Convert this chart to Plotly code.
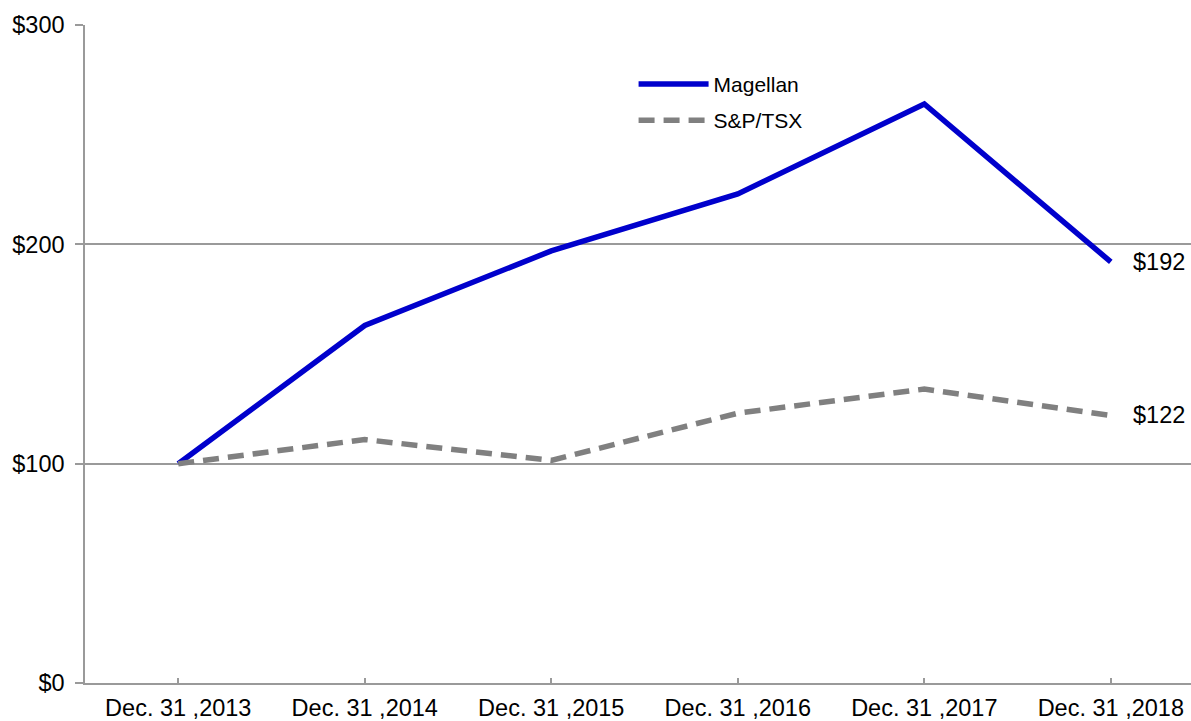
import plotly.graph_objects as go

categories = ["Dec. 31 ,2013", "Dec. 31 ,2014", "Dec. 31 ,2015",
              "Dec. 31 ,2016", "Dec. 31 ,2017", "Dec. 31 ,2018"]
magellan = [100, 163, 197, 223, 264, 192]
sptsx = [100, 111, 101.5, 123, 134, 122]
y_ticks = [0, 100, 200, 300]
y_tick_labels = ["$0", "$100", "$200", "$300"]

FONT = "Liberation Sans, Arial, sans-serif"
GRID = "#9a9a9a"
TICK_SIZE = 23.5

fig = go.Figure()
fig.add_trace(go.Scatter(
    x=categories, y=magellan, mode="lines", name="Magellan",
    line=dict(color="#0000cc", width=5.5), legendgroup="a"))
fig.add_trace(go.Scatter(
    x=categories, y=sptsx, mode="lines", name="S&P/TSX",
    line=dict(color="#808080", width=5.5, dash="16px,9px"), legendgroup="b"))

fig.add_annotation(x=categories[-1], y=magellan[-1], text="$" + str(magellan[-1]),
                   xanchor="left", yanchor="middle", xshift=20, showarrow=False,
                   font=dict(size=TICK_SIZE, color="black", family=FONT))
fig.add_annotation(x=categories[-1], y=sptsx[-1], text="$" + str(sptsx[-1]),
                   xanchor="left", yanchor="middle", xshift=20, showarrow=False,
                   font=dict(size=TICK_SIZE, color="black", family=FONT))

fig.update_layout(
    width=1191, height=721,
    margin=dict(l=85, r=0, t=25, b=38),
    paper_bgcolor="white", plot_bgcolor="white",
    font=dict(family=FONT, size=TICK_SIZE, color="black"),
    legend=dict(x=0.496, y=0.941, xanchor="left", yanchor="top",
                bgcolor="rgba(0,0,0,0)", tracegroupgap=6, itemwidth=70,
                font=dict(size=21, family=FONT, color="black")),
    xaxis=dict(range=[-0.5, 5.43], showgrid=False, showline=True,
               linecolor=GRID, linewidth=1.5, ticks="inside", ticklen=5,
               tickcolor=GRID, tickwidth=1.5, ticklabelstandoff=3,
               automargin=False,
               tickfont=dict(size=TICK_SIZE, family=FONT, color="black"),
               fixedrange=True),
    yaxis=dict(range=[0, 300], tickvals=y_ticks, ticktext=y_tick_labels,
               showgrid=True, gridcolor=GRID, gridwidth=1.5,
               showline=True, linecolor=GRID, linewidth=1.5,
               ticks="outside", ticklen=8, tickcolor=GRID, tickwidth=1.5,
               ticklabelstandoff=6, zeroline=False, automargin=False,
               tickfont=dict(size=TICK_SIZE, family=FONT, color="black")),
)

fig.write_html(
    "out.html",
    config={"displayModeBar": False},
    post_script="document.body.style.margin='0';document.body.style.overflow='hidden';",
)
